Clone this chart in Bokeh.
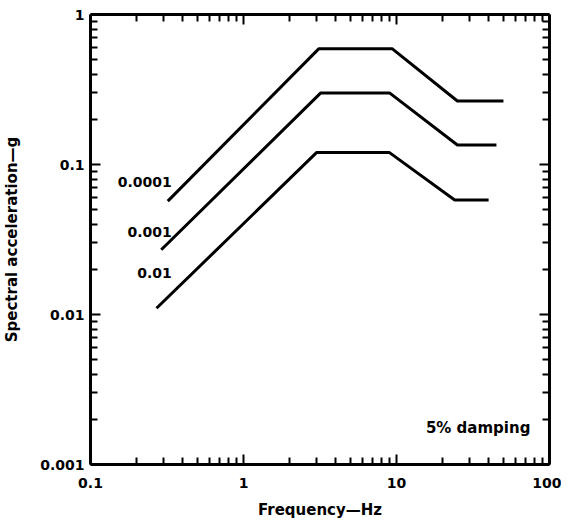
from bokeh.plotting import figure
from bokeh.models import LogAxis, FixedTicker, CustomJSTickFormatter, Label, Range1d
from bokeh.embed import file_html
from bokeh.resources import INLINE
from bokeh.core.properties import value

# ---- data ----
freq_top = [0.32, 3.1, 9.4, 25.0, 50.0]
acc_top = [0.057, 0.59, 0.59, 0.265, 0.265]
freq_mid = [0.29, 3.2, 9.0, 25.0, 45.0]
acc_mid = [0.027, 0.30, 0.30, 0.135, 0.135]
freq_bot = [0.27, 3.0, 9.0, 24.0, 40.0]
acc_bot = [0.011, 0.12, 0.12, 0.058, 0.058]
series_names = ["0.0001", "0.001", "0.01"]

x_tick_values = [0.1, 1, 10, 100]
x_tick_labels = ["0.1", "1", "10", "100"]
y_tick_values = [0.001, 0.01, 0.1, 1]
y_tick_labels = ["0.001", "0.01", "0.1", "1"]

x_title = "Frequency\u2014Hz"
y_title = "Spectral acceleration\u2014g"
note = "5% damping"

# annotation anchors (data coords)
label_x = [0.34, 0.34, 0.34]
label_y = [0.077, 0.0357, 0.0188]

FONT = "DejaVu Sans"

p = figure(width=561, height=521, x_axis_type="log", y_axis_type="log",
           x_range=Range1d(0.1, 100), y_range=Range1d(0.001, 1),
           output_backend="svg", toolbar_location=None,
           min_border_left=90, min_border_right=12, min_border_top=14,
           min_border_bottom=57)
p.grid.visible = False
p.outline_line_color = None
p.background_fill_color = None
p.border_fill_color = "white"


def minors(majors):
    out = []
    for m in majors[:-1]:
        out += [m * k for k in range(2, 10)]
    return out


def make_fmt(vals, labs):
    return CustomJSTickFormatter(args=dict(vals=vals, labs=labs), code="""
        for (let i = 0; i < vals.length; i++) {
            if (Math.abs(Math.log10(vals[i]) - Math.log10(tick)) < 1e-6) return labs[i];
        }
        return '';
    """)


def style(ax, vals, labs, show_labels):
    ax.ticker = FixedTicker(ticks=vals, minor_ticks=minors(vals))
    ax.formatter = make_fmt(vals, labs if show_labels else [""] * len(labs))
    ax.axis_line_width = 3
    ax.axis_line_color = "black"
    ax.major_tick_in = 10
    ax.major_tick_out = 0
    ax.minor_tick_in = 7
    ax.minor_tick_out = 0
    ax.major_tick_line_width = 2
    ax.minor_tick_line_width = 2
    ax.major_tick_line_color = "black"
    ax.minor_tick_line_color = "black"
    if show_labels:
        ax.major_label_text_font = FONT
        ax.major_label_text_font_style = "bold"
        ax.major_label_text_font_size = "14px"
        ax.major_label_text_color = "black"
    else:
        ax.major_label_text_font_size = "0px"
        ax.major_label_standoff = 0


xb = p.xaxis[0]
style(xb, x_tick_values, x_tick_labels, True)
xb.major_label_standoff = 13
xb.axis_label = x_title
xb.axis_label_standoff = 10

yl = p.yaxis[0]
style(yl, y_tick_values, y_tick_labels, True)
yl.major_label_standoff = 6
yl.axis_label = y_title
yl.axis_label_standoff = 16

for ax in (xb, yl):
    ax.axis_label_text_font = FONT
    ax.axis_label_text_font_style = "bold"
    ax.axis_label_text_font_size = "15px"
    ax.axis_label_text_color = "black"

xt = LogAxis()
style(xt, x_tick_values, x_tick_labels, False)
p.add_layout(xt, "above")
yr = LogAxis()
style(yr, y_tick_values, y_tick_labels, False)
p.add_layout(yr, "right")

# curves
for fx, ay in ((freq_top, acc_top), (freq_mid, acc_mid), (freq_bot, acc_bot)):
    p.line(fx, ay, line_color="black", line_width=3)

p.text(x=label_x, y=label_y, text=series_names, text_align="right",
       text_baseline="middle", text_font=value(FONT), text_font_style="bold",
       text_font_size="14px", text_color="black")

p.add_layout(Label(x=75, y=0.00174, text=note, text_align="right",
                   text_baseline="middle", text_font=FONT, text_font_style="bold",
                   text_font_size="15px", text_color="black"))

open("out.html", "w").write(file_html(p, INLINE))
